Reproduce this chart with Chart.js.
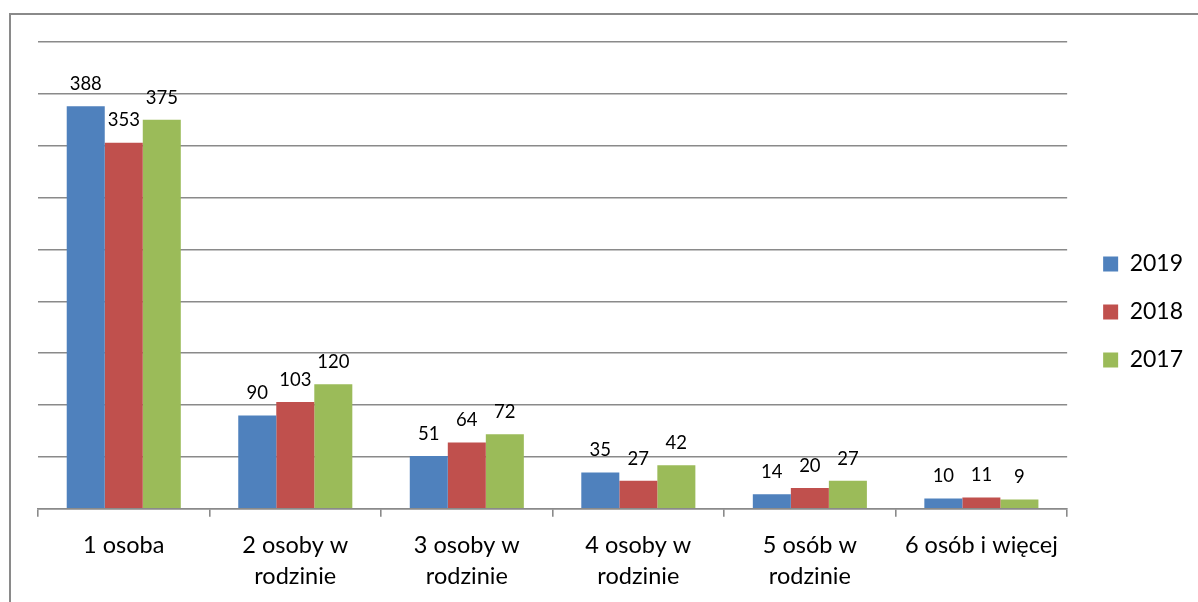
<!DOCTYPE html>
<html>
<head>
<meta charset="utf-8">
<script src="https://cdn.jsdelivr.net/npm/chart.js@4"></script>
<style>
  body { margin: 0; background: #fff; }
  #wrap { position: relative; width: 1198px; height: 602px; }
  #frame { position: absolute; left: 9px; top: 13px; right: 0; bottom: 0;
           border-left: 2px solid #8a8a8a; border-top: 2px solid #8a8a8a; }
  canvas { position: absolute; left: 0; top: 0; }
</style>
</head>
<body>
<div id="wrap">
  <div id="frame"></div>
  <canvas id="chart" width="1198" height="602"></canvas>
</div>
<script>
const categories = [
  "1 osoba",
  ["2 osoby w", "rodzinie"],
  ["3 osoby w", "rodzinie"],
  ["4 osoby w", "rodzinie"],
  ["5 osób w", "rodzinie"],
  "6 osób i więcej"
];
const years = ["2019", "2018", "2017"];
const values2019 = [388, 90, 51, 35, 14, 10];
const values2018 = [353, 103, 64, 27, 20, 11];
const values2017 = [375, 120, 72, 42, 27, 9];
const colors = ["#4F81BD", "#C0504D", "#9BBB59"];

const fontFamily = "Lato, 'Open Sans', sans-serif";

// value labels above each bar
const barLabels = {
  id: "barLabels",
  afterDatasetsDraw(chart) {
    const ctx = chart.ctx;
    ctx.save();
    ctx.font = "18.5px " + fontFamily;
    ctx.fillStyle = "#000";
    ctx.textAlign = "center";
    ctx.textBaseline = "bottom";
    chart.data.datasets.forEach((ds, i) => {
      chart.getDatasetMeta(i).data.forEach((bar, j) => {
        ctx.fillText(ds.data[j], bar.x, bar.y - 13);
      });
    });
    ctx.restore();
  }
};

// nudge the legend up a little
const legendShift = {
  id: "legendShift",
  afterLayout(chart) {
    chart.legend.top -= 10;
    chart.legend.bottom -= 10;
  }
};

const ctx = document.getElementById("chart").getContext("2d");
new Chart(ctx, {
  type: "bar",
  data: {
    labels: categories,
    datasets: [
      { label: years[0], data: values2019, backgroundColor: colors[0] },
      { label: years[1], data: values2018, backgroundColor: colors[1] },
      { label: years[2], data: values2017, backgroundColor: colors[2] }
    ]
  },
  options: {
    responsive: false,
    animation: false,
    layout: { padding: { left: 38, top: 42, right: 5, bottom: 0 } },
    datasets: { bar: { categoryPercentage: 0.665, barPercentage: 1 } },
    plugins: {
      legend: {
        position: "right",
        labels: {
          boxWidth: 15,
          boxHeight: 15,
          padding: 25,
          color: "#000",
          font: { size: 23, family: fontFamily }
        }
      },
      tooltip: { enabled: false }
    },
    scales: {
      x: {
        grid: { offset: true, drawOnChartArea: false, tickLength: 8, color: "#8a8a8a", lineWidth: 1.6 },
        border: { color: "#8a8a8a", width: 1.6 },
        ticks: { color: "#000", font: { size: 23.5, family: fontFamily, lineHeight: 1.28 }, maxRotation: 0, padding: 14 },
        afterFit(axis) { axis.height -= 3; }
      },
      y: {
        min: 0,
        max: 450,
        ticks: { stepSize: 50, display: false },
        grid: { color: "#8a8a8a", lineWidth: 1.6, drawTicks: false },
        border: { display: false }
      },
      gap: {
        position: "right",
        ticks: { display: false },
        grid: { display: false },
        border: { display: false },
        afterFit(axis) { axis.width = 11; }
      }
    }
  },
  plugins: [barLabels, legendShift]
});
</script>
</body>
</html>
